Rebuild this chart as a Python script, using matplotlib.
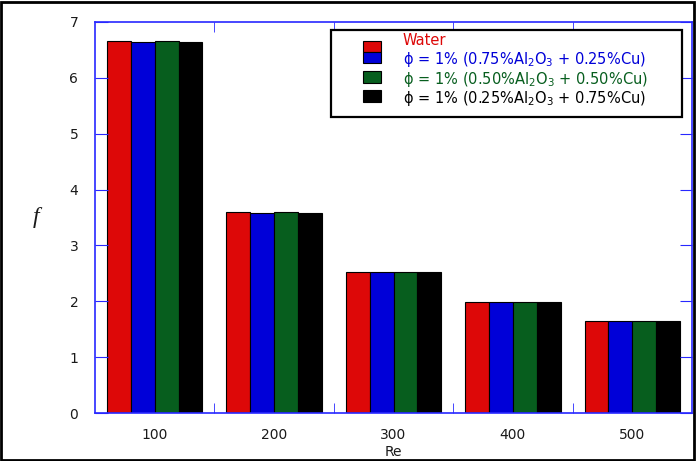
import numpy as np
import matplotlib.pyplot as plt
from matplotlib.patches import Rectangle

plt.rcParams['font.family'] = ['DejaVu Sans']
plt.rcParams['mathtext.fontset'] = 'dejavusans'

# friction factor for each Reynolds number
re_labels = ['100', '200', '300', '400', '500']
f_water = [6.66, 3.59, 2.52, 1.98, 1.64]
f_mix1 = [6.65, 3.58, 2.52, 1.98, 1.64]
f_mix2 = [6.66, 3.59, 2.53, 1.98, 1.65]
f_mix3 = [6.64, 3.58, 2.52, 1.98, 1.64]

series = [
    (f_water, '#dd0808', 'Water'),
    (f_mix1, '#0000d8', '\u03d5 = 1% (0.75%Al$_2$O$_3$ + 0.25%Cu)'),
    (f_mix2, '#075e1e', '\u03d5 = 1% (0.50%Al$_2$O$_3$ + 0.50%Cu)'),
    (f_mix3, '#000000', '\u03d5 = 1% (0.25%Al$_2$O$_3$ + 0.75%Cu)'),
]

fig = plt.figure(figsize=(6.96, 4.61), dpi=100)
ax = fig.add_axes([0.1365, 0.1041, 0.8578, 0.8482])

x = np.arange(1, len(re_labels) + 1)
w = 0.2
for i, (vals, col, lab) in enumerate(series):
    ax.bar(x + (i - 1.5) * w, vals, w, color=col, edgecolor='black',
           linewidth=0.8, label=lab)

ax.set_xlim(0.5, 5.5)
ax.set_ylim(0, 7)
ax.set_xticks(x)
ax.set_xticklabels(re_labels)
ax.set_xticks(x[:-1] + 0.5, minor=True)
ax.set_yticks(range(0, 8))

for s in ax.spines.values():
    s.set_color('#2828ff')
    s.set_linewidth(1.2)
ax.tick_params(axis='both', which='both', direction='in', colors='#2828ff',
               top=True, right=True, labelcolor='#1a1a1a', labelsize=10)
ax.tick_params(axis='y', which='major', length=9, pad=12)
ax.tick_params(axis='x', which='major', length=0, pad=11)
ax.tick_params(axis='x', which='minor', length=7)

ax.set_xlabel('Re', fontsize=10, color='#1a1a1a', labelpad=2)
ax.set_ylabel('f', fontsize=17, family='Liberation Serif', style='italic',
              rotation=0, color='#1a1a1a', labelpad=24, va='center')

# legend box drawn by hand so the rows keep their uneven spacing
ax.add_patch(Rectangle((0.3953, 0.757), 0.588, 0.2225, transform=ax.transAxes,
                       facecolor='white', edgecolor='black', linewidth=1.6,
                       zorder=5, clip_on=False))
handle_y = [(0.9233, 0.0281), (0.8951, 0.0281), (0.844, 0.0307), (0.7954, 0.0307)]
text_y = [0.940, 0.893, 0.842, 0.794]
for (_, col, lab), (hy, hh), ty in zip(series, handle_y, text_y):
    ax.add_patch(Rectangle((0.4489, hy), 0.0302, hh, transform=ax.transAxes,
                           facecolor=col, edgecolor='black', linewidth=0.8,
                           zorder=6, clip_on=False))
    ax.text(0.5159, ty, lab, transform=ax.transAxes, color=col, fontsize=10.5,
            va='baseline', ha='left', zorder=6)

# outer border
fig.patches.append(Rectangle((0.002, 0.003), 0.995, 0.993, transform=fig.transFigure,
                             fill=False, edgecolor='black', linewidth=2))

fig.savefig('out.png', dpi=100)
